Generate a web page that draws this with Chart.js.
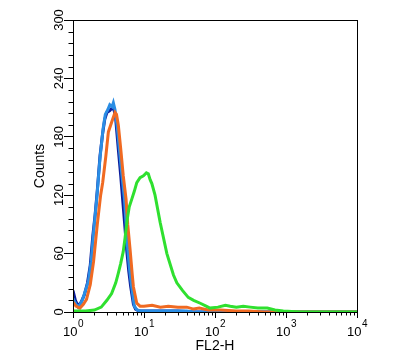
<!DOCTYPE html>
<html>
<head>
<meta charset="utf-8">
<script src="https://cdn.jsdelivr.net/npm/chart.js@4/dist/chart.umd.min.js"></script>
<style>
  html, body { margin: 0; padding: 0; background: #fff; }
</style>
</head>
<body>
<canvas id="graph" width="400" height="364"></canvas>
<script>
// FL2-H channel values and counts
const darkBlueX = [1, 1.08, 1.18, 1.3, 1.45, 1.6, 1.75, 1.9, 2.05, 2.2, 2.4, 2.6, 2.8, 3.0, 3.3, 3.6, 3.8, 4.0, 4.35, 4.7, 5.0, 5.35, 5.7, 6.1, 6.5, 7.1, 7.6, 8.5, 10, 30, 50, 10000];
const darkBlueY = [22, 12, 6, 10, 18, 30, 48, 78, 100, 125, 160, 182, 198, 205, 207, 210, 207, 198, 167, 140, 116, 90, 64, 42, 26, 8, 3, 1, 1, 1, 0, 0];

const lightBlueX = [1, 1.1, 1.2, 1.35, 1.5, 1.65, 1.8, 1.95, 2.15, 2.4, 2.65, 2.85, 3.1, 3.3, 3.55, 3.7, 3.9, 4.2, 4.5, 4.9, 5.3, 5.6, 5.9, 6.3, 6.7, 7.3, 8.0, 9.0, 40, 50, 10000];
const lightBlueY = [14, 8, 5, 12, 22, 32, 52, 82, 115, 158, 188, 203, 208, 213, 211, 215, 208, 190, 167, 140, 116, 90, 64, 42, 26, 6, 2, 1, 1, 0, 0];

const orangeX = [1, 1.1, 1.25, 1.4, 1.55, 1.75, 1.95, 2.2, 2.45, 2.62, 2.9, 3.15, 3.5, 3.7, 3.91, 4.1, 4.35, 4.71, 5.1, 5.59, 5.9, 6.37, 6.8, 7.09, 7.91, 8.8, 10, 13, 17, 22, 30, 40, 50, 60, 80, 120, 200, 300, 480, 10000];
const orangeY = [10, 6, 4, 8, 13, 28, 52, 90, 120, 133, 160, 185, 195, 200, 205, 203, 192, 167, 140, 116, 90, 64, 40, 26, 9, 6, 6, 7, 5, 6, 5, 5, 3, 4, 2, 2, 1, 1, 0, 0];

const greenX = [1, 1.5, 2.0, 2.5, 3.0, 3.5, 4.0, 4.35, 4.7, 5.1, 5.41, 5.8, 6.2, 6.73, 7.3, 7.91, 8.8, 9.81, 10.8, 11.5, 12.2, 12.9, 14.3, 16.9, 21, 26, 29, 35, 42, 50, 62, 75, 85, 110, 140, 164, 200, 250, 313, 400, 545, 700, 916, 1585, 10000];
const greenY = [1, 1, 2, 5, 12, 19, 30, 40, 50, 62, 76, 95, 108, 116, 124, 133, 138, 140, 143, 142, 136, 132, 120, 92, 60, 38, 30, 22, 15, 12, 9, 6, 4, 5, 7, 6, 5, 6, 5, 4, 4, 2, 1, 0, 0];

const decades = [1, 10, 100, 1000, 10000];
const xTickBase = '10';
const xTickExp = ['0', '1', '2', '3', '4'];
const yTickLabels = [0, 60, 120, 180, 240, 300];

// log ticks 1..9 per decade
const xTickValues = [];
for (let d = 1; d < 10000; d *= 10) {
  for (let k = 1; k < 10; k++) xTickValues.push(d * k);
}
xTickValues.push(10000);

const FONT = '"Liberation Sans", Arial, "DejaVu Sans", sans-serif';
const pts = (xs, ys) => xs.map((x, i) => ({ x: x, y: ys[i] }));

// frame, short minor ticks and 10^n labels
const boxPlugin = {
  id: 'box',
  afterDraw(chart) {
    const a = chart.chartArea;
    const ctx = chart.ctx;
    const xs = chart.scales.x;
    const ys = chart.scales.y;
    ctx.save();
    ctx.strokeStyle = '#000';
    ctx.lineWidth = 1;
    ctx.strokeRect(a.left + 0.5, a.top + 0.5, a.right - a.left, a.bottom - a.top);

    ctx.beginPath();
    xs.ticks.forEach((t) => {
      if (decades.includes(t.value)) return;
      const px = Math.round(xs.getPixelForValue(t.value)) + 0.5;
      ctx.moveTo(px, a.bottom);
      ctx.lineTo(px, a.bottom + 3.5);
    });
    ys.ticks.forEach((t) => {
      if (yTickLabels.includes(t.value)) return;
      const py = Math.round(ys.getPixelForValue(t.value)) + 0.5;
      ctx.moveTo(a.left, py);
      ctx.lineTo(a.left - 4.5, py);
    });
    ctx.stroke();

    ctx.fillStyle = '#000';
    ctx.textBaseline = 'alphabetic';
    decades.forEach((v, i) => {
      const px = xs.getPixelForValue(v);
      ctx.font = '13px ' + FONT;
      const wb = ctx.measureText(xTickBase).width;
      ctx.font = '10px ' + FONT;
      const we = ctx.measureText(xTickExp[i]).width;
      const x0 = px - (wb + we) / 2;
      ctx.font = '13px ' + FONT;
      ctx.textAlign = 'left';
      ctx.fillText(xTickBase, x0, 335.5);
      ctx.font = '10px ' + FONT;
      ctx.fillText(xTickExp[i], x0 + wb + 0.5, 327);
    });
    ctx.restore();
  }
};

Chart.defaults.font.family = FONT;
Chart.defaults.font.size = 13;
Chart.defaults.color = '#000';

let config = {
  type: 'line',
  data: {
    datasets: [
      { label: 'green', data: pts(greenX, greenY), borderColor: '#2fe02f' },
      { label: 'orange', data: pts(orangeX, orangeY), borderColor: '#f06a22' },
      { label: 'light blue', data: pts(lightBlueX, lightBlueY), borderColor: '#2a8de4' },
      { label: 'dark blue', data: pts(darkBlueX, darkBlueY), borderColor: '#0c1c9c' },
    ],
  },
  options: {
    responsive: false,
    animation: false,
    layout: { padding: { left: 0, right: 43, top: 20, bottom: 0 } },
    plugins: { legend: { display: false }, tooltip: { enabled: false } },
    elements: { point: { radius: 0 }, line: { borderWidth: 3, tension: 0 } },
    scales: {
      x: {
        type: 'logarithmic',
        min: 1,
        max: 10000,
        afterBuildTicks: (s) => { s.ticks = xTickValues.map((v) => ({ value: v })); },
        afterFit: (s) => { s.height = 52; },
        ticks: { autoSkip: false, maxRotation: 0, minRotation: 0, callback: () => '' },
        grid: {
          drawOnChartArea: false, drawTicks: true, tickLength: 6,
          tickColor: (c) => (c.tick && decades.includes(c.tick.value) ? '#000' : 'rgba(0,0,0,0)'),
        },
        border: { display: true, color: '#000', width: 1 },
        title: { display: true, text: 'FL2-H', font: { size: 14 }, padding: { top: 0, bottom: 9 } },
      },
      y: {
        min: 0,
        max: 300,
        afterFit: (s) => { s.width = 73; },
        ticks: {
          stepSize: 12, autoSkip: false, minRotation: 90, maxRotation: 90,
          crossAlign: 'center', padding: -6,
          callback: (v) => (yTickLabels.includes(v) ? String(v) : ''),
        },
        grid: {
          drawOnChartArea: false, drawTicks: true, tickLength: 9,
          tickColor: (c) => (c.tick && yTickLabels.includes(c.tick.value) ? '#000' : 'rgba(0,0,0,0)'),
        },
        border: { display: true, color: '#000', width: 1 },
        title: { display: true, text: 'Counts', font: { size: 14 }, padding: { top: 32, bottom: 0 } },
      },
    },
  },
  plugins: [boxPlugin],
};

window.onload = () => {
  new Chart(document.getElementById('graph'), config);
};
</script>
</body>
</html>
